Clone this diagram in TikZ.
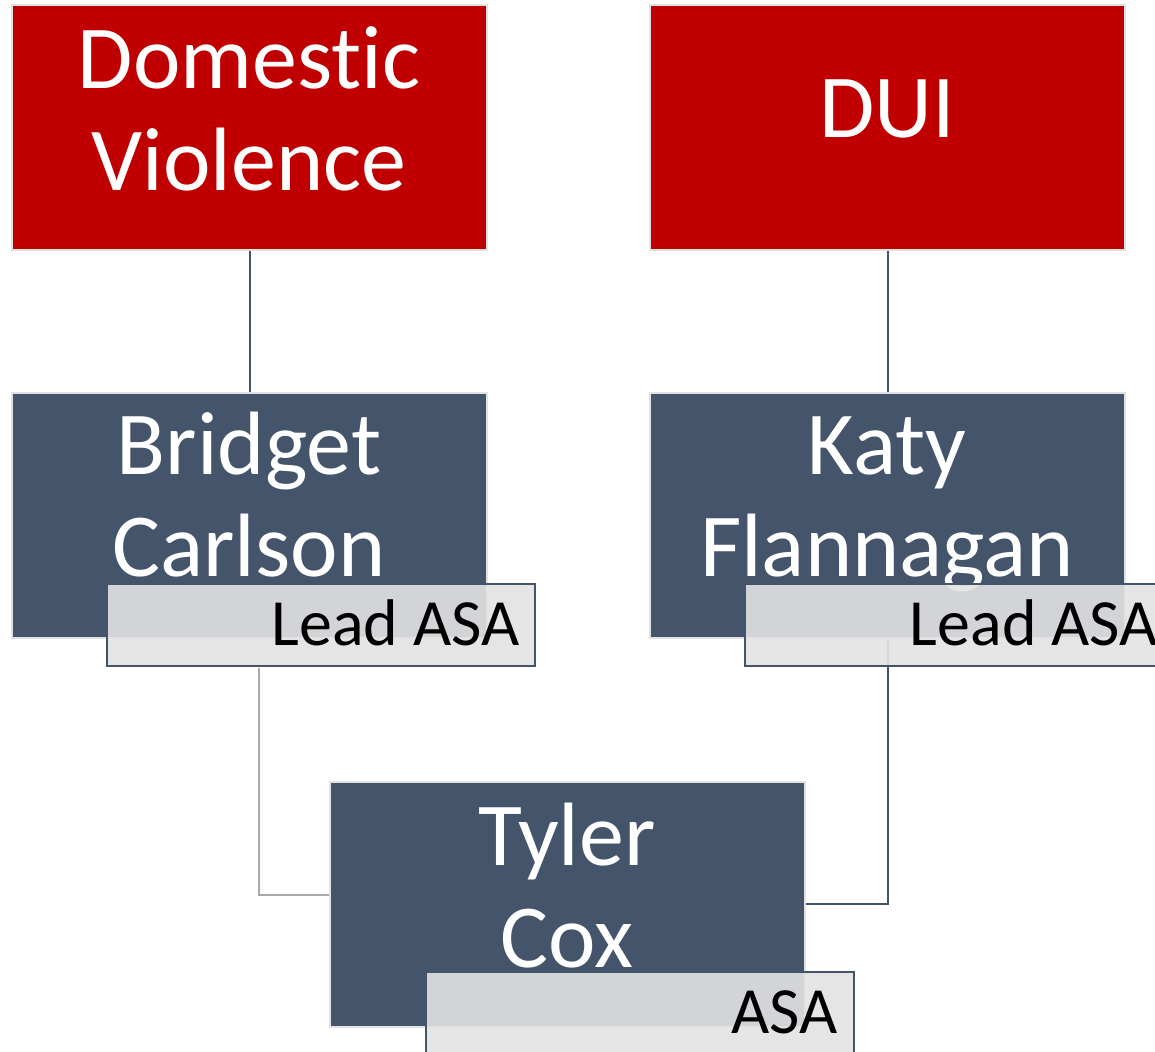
\documentclass[tikz,border=0pt]{standalone}
\usepackage{fontspec}
\setmainfont[Ligatures=NoCommon]{Carlito}
\definecolor{catred}{HTML}{C00000}
\definecolor{slate}{HTML}{44546A}
\definecolor{boxedge}{HTML}{E2E2E2}
\definecolor{rolegrey}{HTML}{E3E3E3}
\definecolor{linkgrey}{HTML}{A9A9A9}
\begin{document}
\begin{tikzpicture}[x=1pt,y=-1pt,
  catbox/.style={draw=boxedge, line width=2pt, fill=catred, minimum width=475pt, minimum height=245pt, inner sep=0pt},
  personbox/.style={catbox, fill=slate},
  rolebox/.style={draw=slate, line width=1.8pt, fill=rolegrey, fill opacity=0.9, minimum width=428pt, minimum height=82pt, inner sep=0pt},
  bigtext/.style={text=white, align=center, font=\fontsize{90}{102}\selectfont, inner sep=0pt, anchor=base},
  roletext/.style={text=black, font=\fontsize{66}{76}\selectfont, inner sep=0pt, anchor=base east},
  link/.style={draw=slate, line width=2pt},
  softlink/.style={draw=linkgrey, line width=2.4pt}
]
\useasboundingbox[fill=white] (0,0) rectangle (1155,1051);

% category boxes
\node[catbox] (dv) at (249.5,127.5) {};
\node[catbox] (dui) at (887.5,127.5) {};
% people
\node[personbox] (bc) at (249.5,515.5) {};
\node[personbox] (kf) at (887.5,515.5) {};
\node[personbox] (tc) at (567.5,904) {};

% names (anchored at the baseline of the last line)
\node[bigtext] (dvtext) at (249,190) {Domestic\\Violence};
\node[bigtext] (duitext) at (887,138) {DUI};
\node[bigtext] (bctext) at (249,576) {Bridget\\Carlson};
\node[bigtext] (kftext) at (887,576) {Katy\\Flannagan};
\node[bigtext] (tctext) at (567,967) {Tyler\\Cox};

% reporting lines
\coordinate (bcdrop) at (259,668);
\draw[link] (dv.south) -- (bc.north);
\draw[link] (dui.south) -- (kf.north);
\draw[softlink] (bcdrop) |- ([yshift=9pt]tc.west);
\draw[link] (kf.south) |- (tc.east);

% role tags
\node[rolebox] (bcl) at (321,625) {};
\node[rolebox] (kfl) at (959,625) {};
\node[rolebox] (tcl) at (640,1013) {};
\node[roletext] (bcrole) at (520,645) {Lead ASA};
\node[roletext] (kfrole) at (1158,645) {Lead ASA};
\node[roletext] (tcrole) at (838,1033) {ASA};
\end{tikzpicture}
\end{document}
